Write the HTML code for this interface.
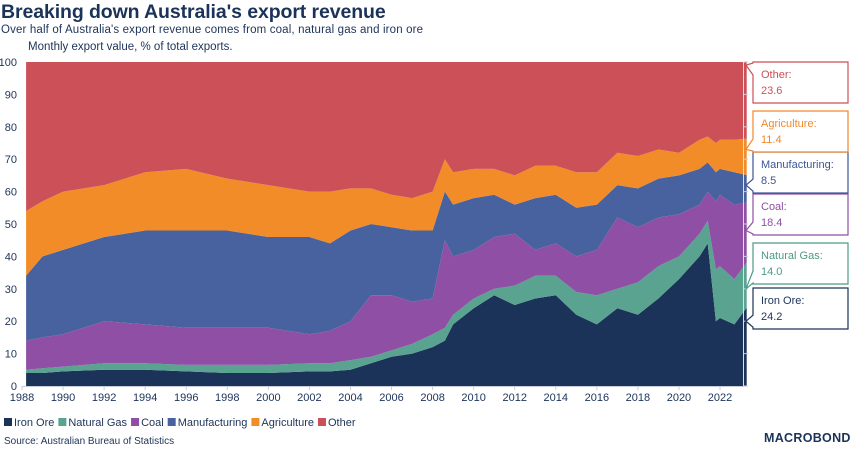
<!DOCTYPE html>
<html><head><meta charset="utf-8"><style>
body{margin:0;background:#fff;width:850px;height:453px;overflow:hidden;font-family:"Liberation Sans",sans-serif;color:#1c3359}
.t{position:absolute;white-space:nowrap}
</style></head><body>
<div class="t" style="left:1px;top:1px;font-size:19.5px;font-weight:bold;letter-spacing:-0.1px">Breaking down Australia's export revenue</div>
<div class="t" style="left:1px;top:24px;font-size:11.5px;letter-spacing:0.15px">Over half of Australia's export revenue comes from coal, natural gas and iron ore</div>
<div class="t" style="left:28px;top:41px;font-size:11.5px">Monthly export value, % of total exports.</div>
<svg id="c" width="850" height="453" style="position:absolute;left:0;top:0"></svg>
<div class="t" style="left:4px;top:436px;font-size:10px">Source: Australian Bureau of Statistics</div>
<div class="t" style="left:764px;top:431px;font-size:12.5px;font-weight:bold;letter-spacing:0.3px">MACROBOND</div>
<script>
const dates=[1988.2,1989,1990,1992,1994,1996,1998,2000,2002,2003,2004,2005,2006,2007,2008,2008.6,2009,2010,2011,2012,2013,2014,2015,2016,2017,2018,2019,2020,2021,2021.4,2021.8,2022,2022.7,2023.3];
const ironOre=[4,4,4.5,5,5,4.5,4,4,4.5,4.5,5,7,9,10,12,14,19,24,28,25,27,28,22,19,24,22,27,33,40,44,20,21,19,24.2];
const naturalGas=[1,1.5,1.5,2,2,2,2.5,2.5,2.5,2.5,3,2,2,3,4,4,3,3,2,6,7,6,7,9,6,10,10,7,7,7,16,16,14,14];
const coal=[9,9.5,10,13,12,11.5,11.5,11.5,9,10,12,19,17,13,11,27,18,15,16,16,8,10,11,14,22,17,15,13,9,9,21,22,23,18.4];
const manufacturing=[20,25,26,26,29,30,30,28,30,27,28,22,21,22,21,15,16,16,13,9,16,15,15,14,10,12,12,12,11,9,9,8,10,8.5];
const agriculture=[20,17,18,16,18,19,16,16,14,16,13,11,10,10,12,10,10,9,8,9,10,9,11,10,10,10,9,7,9,8,9,9,10,11.3];
const seriesNames=["Iron Ore","Natural Gas","Coal","Manufacturing","Agriculture","Other"];
const yTicks=[0,10,20,30,40,50,60,70,80,90,100];
const xTicks=[1988,1990,1992,1994,1996,1998,2000,2002,2004,2006,2008,2010,2012,2014,2016,2018,2020,2022];
const lastValues=["24.2","14.0","18.4","8.5","11.4","23.6"];
const colors=["#1c3359","#5aa390","#8e4fa5","#4862a0","#f28c28","#cc5058"];
const textColors=["#1c3359","#4d9a86","#8e4fa5","#3d5596","#f0892b","#cc5058"];
const NS="http://www.w3.org/2000/svg";
const svg=document.getElementById('c');
const x=y=>22+(y-1988)*20.53;
const yv=v=>386-v*3.24;
function mk(t,a,p){const e=document.createElementNS(NS,t);for(const k in a)e.setAttribute(k,a[k]);(p||svg).appendChild(e);return e;}
const other=dates.map((d,i)=>100-ironOre[i]-naturalGas[i]-coal[i]-manufacturing[i]-agriculture[i]);
const series=[ironOre,naturalGas,coal,manufacturing,agriculture,other];
let base=dates.map(()=>0);
const ends=[];
series.forEach((s,k)=>{
  const top=base.map((b,i)=>b+s[i]);
  let d="M"+dates.map((dt,i)=>x(dt).toFixed(1)+","+yv(top[i]).toFixed(1)).join("L");
  for(let i=dates.length-1;i>=0;i--)d+="L"+x(dates[i]).toFixed(1)+","+yv(base[i]).toFixed(1);
  const p=mk('path',{d:d+"Z",fill:colors[k]});
  
  
  ends.push(top[top.length-1]);
  base=top;
});
const ax=mk('line',{x1:22,x2:744,y1:386.5,y2:386.5,stroke:'#c8ccd6'});

const ra=mk('line',{x1:743.5,x2:743.5,y1:62,y2:386,stroke:'#dde0e6'});

yTicks.forEach(v=>{
  const t=mk('text',{x:17,y:yv(v)+4,'text-anchor':'end','font-size':11,fill:'#1c3359'});t.textContent=v;
  
  mk('line',{x1:744,x2:748,y1:yv(v),y2:yv(v),stroke:'#c8ccd6'});
});
xTicks.forEach(v=>{
  const t=mk('text',{x:x(v),y:401,'text-anchor':'middle','font-size':11,fill:'#1c3359'});t.textContent=v;
  
  mk('line',{x1:x(v),x2:x(v),y1:386,y2:390,stroke:'#c8ccd6'});
});
const boxTops=[288,243,194,152,111,62];
const pointY=[yv(20),yv(30),yv(48),yv(62),yv(73),yv(99)];
for(let k=0;k<6;k++){
  const g=mk('g',{});
  
  
  const t0=boxTops[k],h=41,py=pointY[k];
  const mid=Math.min(Math.max(py,t0+7),t0+h-7);
  mk('path',{d:`M753,${t0}H848V${t0+h}H753V${mid+6}L746,${py}L753,${mid-6}Z`,fill:'#fff',stroke:textColors[k],'stroke-width':1.2},g);
  const a=mk('text',{x:761,y:t0+16,'font-size':11,fill:textColors[k]},g);a.textContent=seriesNames[k]+":";
  const b=mk('text',{x:761,y:t0+32,'font-size':11,fill:textColors[k]},g);b.textContent=lastValues[k];
}
let lx=4;
seriesNames.forEach((n,k)=>{
  const g=mk('g',{});
  
  
  mk('rect',{x:lx,y:418,width:8,height:8,fill:colors[k]},g);
  const t=mk('text',{x:lx+10,y:426,'font-size':11,fill:'#1c3359'},g);t.textContent=n;
  lx+=10+t.getComputedTextLength()+4;
});
</script>
</body></html>
